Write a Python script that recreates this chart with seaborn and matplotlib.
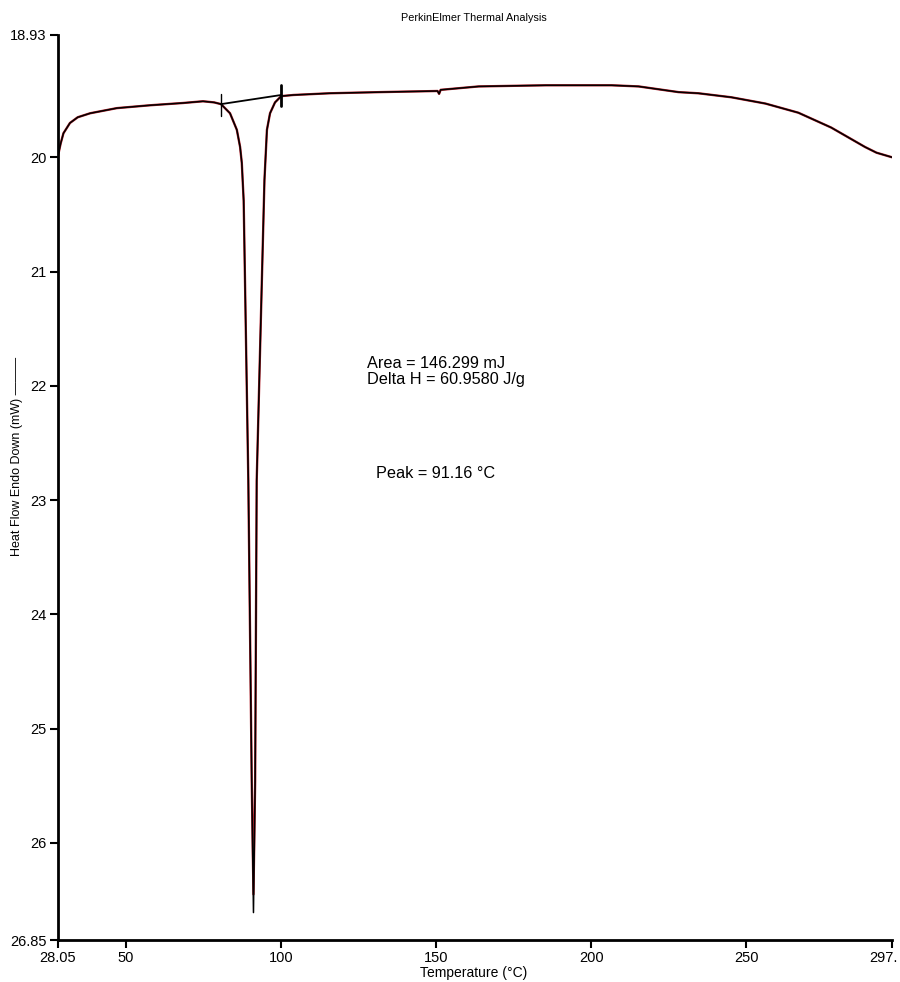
import numpy as np
import pandas as pd
import seaborn as sns
import matplotlib
matplotlib.use('Agg')
import matplotlib.pyplot as plt
from matplotlib.transforms import ScaledTranslation

# DSC scan values
temp = [28.05, 29.0, 29.9, 32.0, 34.5, 38.5, 47.1, 57.8, 68.5, 74.9, 78.5, 80.7,
        83.6, 85.8, 86.85, 87.4, 88.0, 89.5, 90.6, 91.16, 91.7, 92.2, 94.7,
        95.5, 96.5, 98.1, 100.1, 104.0, 115.6, 131.7, 150.5, 151.0, 151.5,
        163.8, 185.4, 206.6, 215.3, 228.2, 234.6, 245.2, 256.2, 266.8, 277.4,
        288.3, 292.0, 297.0]
heat_black = [20.0, 19.88, 19.79, 19.70, 19.65, 19.615, 19.57, 19.545, 19.525, 19.51, 19.52, 19.535,
              19.615, 19.76, 19.91, 20.05, 20.38, 22.83, 25.46, 26.61, 25.46, 22.83, 20.2,
              19.76, 19.615, 19.52, 19.465, 19.455, 19.44, 19.43, 19.42, 19.445, 19.41,
              19.38, 19.37, 19.37, 19.38, 19.43, 19.44, 19.475, 19.53, 19.61, 19.74,
              19.91, 19.96, 20.0]
heat_red = list(heat_black)
heat_red[19] = 26.45   # red trace stops a little short of the black tip

# onset / end of the peak integration baseline
base_t = [80.7, 100.1]
base_y = [19.535, 19.455]

x_ticks = [28.05, 50, 100, 150, 200, 250, 297]
x_labels = ['28.05', '50', '100', '150', '200', '250', '297.']
y_ticks = [18.93, 20, 21, 22, 23, 24, 25, 26, 26.85]
y_labels = ['18.93', '20', '21', '22', '23', '24', '25', '26', '26.85']

df = pd.DataFrame({'T': temp, 'black': heat_black, 'red': heat_red})

sns.set_style('ticks')
plt.rcParams['font.family'] = ['Liberation Sans', 'DejaVu Sans']
plt.rcParams['text.color'] = 'black'

fig = plt.figure(figsize=(9, 9.82), dpi=100)
ax = fig.add_axes([57.7 / 900, 1 - 940 / 982, (892 - 57.7) / 900, (940 - 35) / 982])

sns.lineplot(data=df, x='T', y='red', color='#b3222c', lw=1.7, sort=False, estimator=None, ax=ax)
sns.lineplot(data=df, x='T', y='black', color='black', lw=1.1, sort=False, estimator=None, ax=ax)

# baseline and end markers
ax.plot(base_t, base_y, color='black', lw=1.3)
ax.plot([base_t[0], base_t[0]], [base_y[0] - 0.09, base_y[0] + 0.1], color='black', lw=1.0)
ax.plot([base_t[1], base_t[1]], [base_y[1] - 0.09, base_y[1] + 0.1], color='black', lw=2.0)

ax.set_xlim(28.05, 297)
ax.set_ylim(26.85, 18.93)
ax.set_xticks(x_ticks)
ax.set_xticklabels(x_labels)
ax.set_yticks(y_ticks)
ax.set_yticklabels(y_labels)
ax.tick_params(axis='both', labelsize=10.5, length=6, width=1.5, colors='black', pad=2)
ax.set_xlabel('')
ax.set_ylabel('')
sns.despine(ax=ax)
for s in ['left', 'bottom']:
    ax.spines[s].set_linewidth(2)
    ax.spines[s].set_color('black')

# last x label sits a bit left of its tick, as in the original
last = ax.get_xticklabels()[-1]
last.set_transform(last.get_transform() + ScaledTranslation(-9 / 100, 0, fig.dpi_scale_trans))

ax.text(127.8, 21.84, 'Area = 146.299 mJ', fontsize=11.7, va='baseline', color='black')
ax.text(127.8, 21.98, 'Delta H = 60.9580 J/g', fontsize=11.7, va='baseline', color='black')
ax.text(130.7, 22.81, 'Peak = 91.16 \u00b0C', fontsize=11.7, va='baseline', color='black')

fig.text(474 / 900, 1 - 18 / 982, 'PerkinElmer Thermal Analysis', fontsize=7.8, ha='center', va='center')
fig.text(474 / 900, 1 - 973 / 982, 'Temperature (\u00b0C)', fontsize=10, ha='center', va='center')
fig.text(17 / 900, 1 - 456 / 982, 'Heat Flow Endo Down (mW) \u2014\u2014\u2014', fontsize=9,
         rotation=90, ha='center', va='center')

fig.savefig('out.png', dpi=100)
